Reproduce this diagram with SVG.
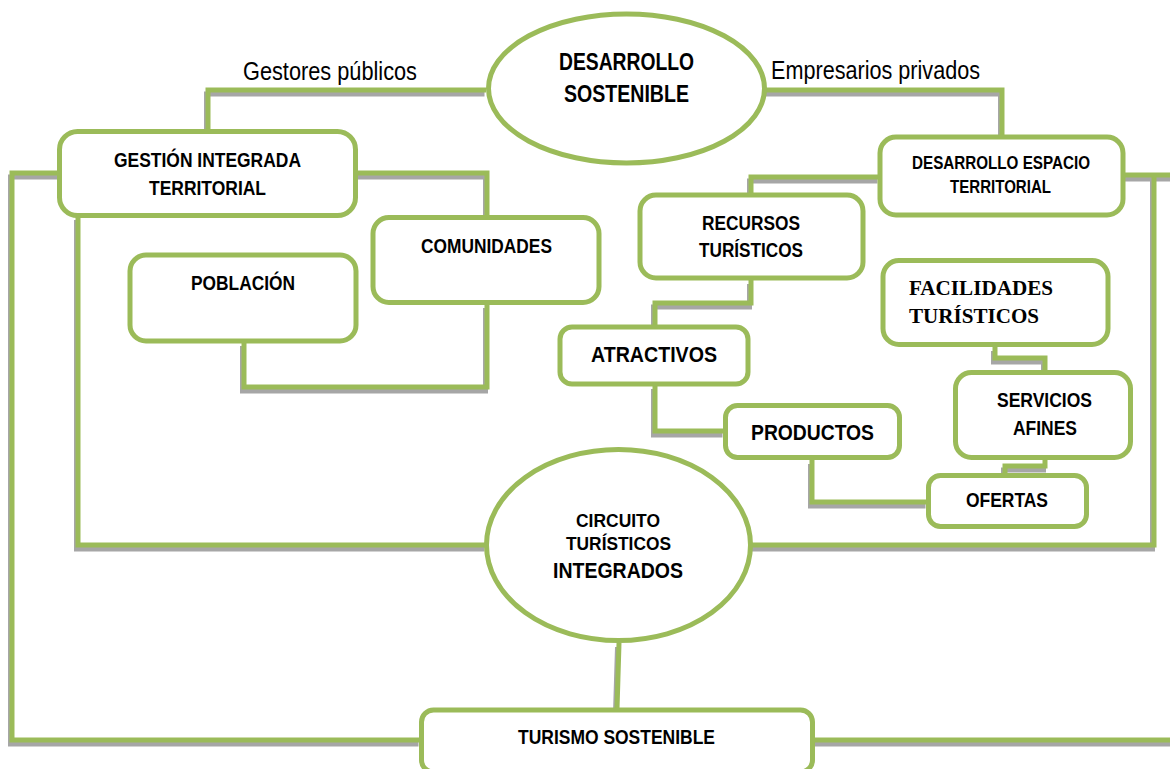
<svg xmlns="http://www.w3.org/2000/svg" xmlns:xlink="http://www.w3.org/1999/xlink" width="1170" height="769" viewBox="0 0 1170 769">
<style>
.bg{fill:#ffffff}
.node{fill:#ffffff;stroke:#9BBB59;stroke-width:5}
.ln{fill:none;stroke:#9BBB59;stroke-width:5;stroke-linejoin:miter}
.sh{fill:none;stroke:#A6A6A6;stroke-width:5;stroke-linejoin:miter}
.t{font-family:"Liberation Sans Narrow","Liberation Sans",Arial,sans-serif;font-weight:bold;fill:#000;text-anchor:middle}
.lab{font-family:"Liberation Sans Narrow","Liberation Sans",Arial,sans-serif;font-weight:normal;fill:#000}
.ser{font-family:"Liberation Serif","Times New Roman",serif;font-weight:bold;fill:#000}
</style>
<rect class="bg" x="0" y="0" width="1170" height="769"/>
<defs>
<g id="paths">
<path d="M486 90 H208 V131"/>
<path d="M766 90 H1002 V136"/>
<path d="M357 173 H487 V216"/>
<path d="M60 173 H12 V740 H420"/>
<path d="M78 216 V545 H486"/>
<path d="M244 342 V387 H487 V304"/>
<path d="M879 177 H751 V194"/>
<path d="M751 280 V303 H655 V326"/>
<path d="M655 385 V431 H724"/>
<path d="M812 460 V502 H927"/>
<path d="M995 347 V358 H1045 V371"/>
<path d="M1045 460 V466 H1005 V474"/>
<path d="M1125 175 H1172"/>
<path d="M1154 175 V545 H752"/>
<path d="M814 740 H1172"/>
<path d="M619 643 L617 709"/>
</g>
</defs>
<g id="connectors">
<use xlink:href="#paths" href="#paths" class="sh" transform="translate(-1.5,4)"/>
<use xlink:href="#paths" href="#paths" class="ln"/>
</g>
<text class="lab" x="243" y="80" font-size="25" textLength="174" lengthAdjust="spacingAndGlyphs">Gestores públicos</text>
<text class="lab" x="771" y="79" font-size="25" textLength="209" lengthAdjust="spacingAndGlyphs">Empresarios privados</text>

<g id="n-desarrollo-sostenible">
<ellipse class="node" cx="626.5" cy="88.5" rx="138" ry="74.5"/>
<text class="t" x="626.5" y="70" font-size="23" textLength="135" lengthAdjust="spacingAndGlyphs">DESARROLLO</text>
<text class="t" x="626.5" y="102" font-size="23" textLength="125" lengthAdjust="spacingAndGlyphs">SOSTENIBLE</text>
</g>
<g id="n-gestion">
<rect class="node" x="59.5" y="131.5" width="296" height="84" rx="18"/>
<text class="t" x="207.5" y="167" font-size="21" textLength="187" lengthAdjust="spacingAndGlyphs">GESTIÓN INTEGRADA</text>
<text class="t" x="207.5" y="195" font-size="21" textLength="117" lengthAdjust="spacingAndGlyphs">TERRITORIAL</text>
</g>
<g id="n-comunidades">
<rect class="node" x="373" y="217.5" width="226" height="85" rx="16"/>
<text class="t" x="486.5" y="253" font-size="21" textLength="131" lengthAdjust="spacingAndGlyphs">COMUNIDADES</text>
</g>
<g id="n-poblacion">
<rect class="node" x="130" y="255" width="226" height="86" rx="16"/>
<text class="t" x="243" y="290" font-size="21" textLength="104" lengthAdjust="spacingAndGlyphs">POBLACIÓN</text>
</g>
<g id="n-desarrollo-espacio">
<rect class="node" x="880" y="137" width="243" height="78" rx="16"/>
<text class="t" x="1001" y="169" font-size="18" textLength="178" lengthAdjust="spacingAndGlyphs">DESARROLLO ESPACIO</text>
<text class="t" x="1000.5" y="193" font-size="18" textLength="101" lengthAdjust="spacingAndGlyphs">TERRITORIAL</text>
</g>
<g id="n-recursos">
<rect class="node" x="640" y="195" width="223" height="83" rx="16"/>
<text class="t" x="751" y="230" font-size="21" textLength="98" lengthAdjust="spacingAndGlyphs">RECURSOS</text>
<text class="t" x="751" y="257" font-size="21" textLength="104" lengthAdjust="spacingAndGlyphs">TURÍSTICOS</text>
</g>
<g id="n-facilidades">
<rect class="node" x="883" y="260.5" width="225" height="84" rx="16"/>
<text class="ser" x="909" y="295" font-size="21" textLength="144" lengthAdjust="spacingAndGlyphs">FACILIDADES</text>
<text class="ser" x="909" y="323" font-size="21" textLength="130" lengthAdjust="spacingAndGlyphs">TURÍSTICOS</text>
</g>
<g id="n-atractivos">
<rect class="node" x="560" y="327" width="188" height="57" rx="12"/>
<text class="t" x="654" y="362" font-size="22" textLength="126" lengthAdjust="spacingAndGlyphs">ATRACTIVOS</text>
</g>
<g id="n-servicios">
<rect class="node" x="955.5" y="372.5" width="175" height="85" rx="16"/>
<text class="t" x="1044.5" y="407" font-size="20" textLength="95" lengthAdjust="spacingAndGlyphs">SERVICIOS</text>
<text class="t" x="1045" y="435" font-size="20" textLength="64" lengthAdjust="spacingAndGlyphs">AFINES</text>
</g>
<g id="n-productos">
<rect class="node" x="725.5" y="405.5" width="174" height="52" rx="12"/>
<text class="t" x="812.5" y="440" font-size="22" textLength="123" lengthAdjust="spacingAndGlyphs">PRODUCTOS</text>
</g>
<g id="n-ofertas">
<rect class="node" x="928.5" y="475.5" width="158" height="51" rx="12"/>
<text class="t" x="1007" y="507" font-size="20" textLength="82" lengthAdjust="spacingAndGlyphs">OFERTAS</text>
</g>
<g id="n-circuito">
<ellipse class="node" cx="618.5" cy="545" rx="132" ry="95.5"/>
<text class="t" x="618" y="527" font-size="19" textLength="84" lengthAdjust="spacingAndGlyphs">CIRCUITO</text>
<text class="t" x="618.5" y="550" font-size="19" textLength="105" lengthAdjust="spacingAndGlyphs">TURÍSTICOS</text>
<text class="t" x="618" y="578" font-size="22" textLength="130" lengthAdjust="spacingAndGlyphs">INTEGRADOS</text>
</g>
<g id="n-turismo">
<rect class="node" x="421.5" y="710" width="391" height="62" rx="12"/>
<text class="t" x="616.5" y="744" font-size="20" textLength="197" lengthAdjust="spacingAndGlyphs">TURISMO SOSTENIBLE</text>
</g>
</svg>
